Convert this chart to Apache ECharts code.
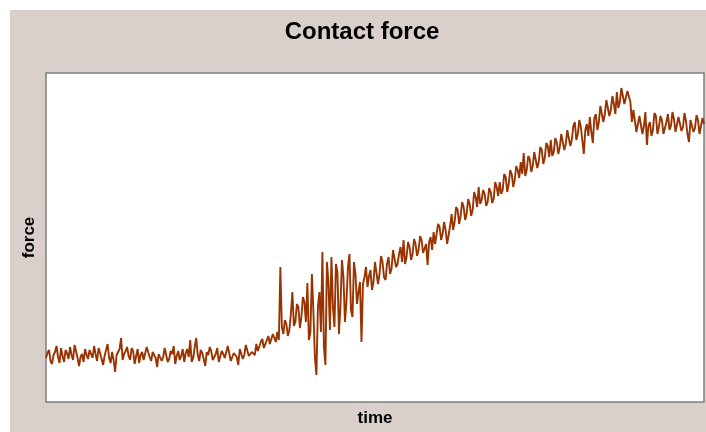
<!DOCTYPE html>
<html>
<head>
<meta charset="utf-8">
<script src="https://cdn.jsdelivr.net/npm/echarts@6/dist/echarts.min.js"></script>
<style>
html,body{margin:0;padding:0;background:#ffffff;}
#bg{position:absolute;left:10px;top:10px;width:696px;height:422px;background:#d9d0cc;}
#chart{position:absolute;left:0;top:0;width:706px;height:432px;}
</style>
</head>
<body>
<div id="bg"></div>
<div id="chart"></div>
<script>
const titleText = "Contact force";
const xName = "time";
const yName = "force";
// force readings (arbitrary units), sampled along time
const force = [
44,49,52,41,38,47,50,56,45,39,54,46,40,52,49,43,55,47,42,57,51,44,36,45,48,40,53,47,43,52,50,44,56,48,41,54,49,43,37,46,
52,58,44,39,50,42,30,47,45,53,64,42,48,51,55,46,42,54,51,38,46,53,39,47,50,42,44,55,53,45,41,50,49,44,35,48,50,41,45,54,
52,40,43,51,48,56,38,46,51,42,46,53,40,49,53,45,62,40,44,55,64,47,41,52,49,43,36,50,47,55,51,42,43,48,54,40,39,51,48,44,
45,56,55,41,42,49,50,45,37,53,52,43,47,57,55,46,44,50,52,47,58,51,50,60,63,54,55,62,66,58,57,68,64,60,70,62,135,75,68,82,
78,66,72,88,110,76,80,98,95,74,85,105,100,80,119,62,70,128,90,45,27,95,110,70,150,55,37,140,120,72,145,95,75,138,130,68,
95,142,125,80,100,135,148,92,85,140,128,98,110,120,60,118,125,135,115,126,132,112,120,140,138,118,128,146,140,125,122,138,
145,128,133,152,150,135,138,148,155,140,162,138,145,160,155,142,148,163,158,146,152,166,162,149,150,158,137,160,165,152,
170,158,160,178,175,162,168,180,172,158,160,176,188,172,180,195,192,178,186,200,195,182,188,203,198,186,192,210,205,195,
215,198,202,212,208,196,200,214,210,199,203,220,215,206,220,208,212,228,225,210,218,232,228,215,222,236,232,224,240,228,
249,226,232,246,243,230,236,250,248,234,240,255,252,238,244,259,256,245,262,246,250,264,260,248,255,268,266,252,258,272,
270,256,262,276,280,262,268,282,275,262,248,272,278,266,285,270,259,284,288,272,280,296,295,280,288,302,300,286,292,306,
298,288,310,294,300,314,312,298,296,311,313,300,280,292,290,270,272,286,284,268,276,290,257,276,280,266,272,289,286,268,
275,286,282,268,270,280,288,272,276,290,283,270,272,285,287,271,275,289,281,268,260,282,284,270,274,287,282,268,270,284,
278
];
const times = force.map((_, i) => i);

const chart = echarts.init(document.getElementById('chart'), null, {renderer: 'canvas'});
chart.setOption({
  animation: false,
  backgroundColor: 'transparent',
  title: {
    text: titleText,
    left: 357,
    textAlign: 'center',
    top: 15,
    textStyle: {fontFamily: 'Liberation Sans', fontWeight: 'bold', fontSize: 24, color: '#000'}
  },
  grid: {
    left: 46, right: 2, top: 73, bottom: 30,
    show: true, backgroundColor: '#ffffff', borderColor: '#7f7f7f', borderWidth: 1.5
  },
  xAxis: {
    type: 'category',
    data: times,
    boundaryGap: false,
    name: xName,
    nameLocation: 'middle',
    nameGap: 8,
    nameTextStyle: {fontFamily: 'Liberation Sans', fontWeight: 'bold', fontSize: 17, color: '#000', verticalAlign: 'top'},
    axisLine: {show: false}, axisTick: {show: false}, axisLabel: {show: false}, splitLine: {show: false}
  },
  yAxis: {
    type: 'value',
    min: 0, max: 329,
    name: yName,
    nameLocation: 'middle',
    nameGap: 8,
    nameRotate: 90,
    nameTextStyle: {fontFamily: 'Liberation Sans', fontWeight: 'bold', fontSize: 17, color: '#000', verticalAlign: 'bottom'},
    axisLine: {show: false}, axisTick: {show: false}, axisLabel: {show: false}, splitLine: {show: false}
  },
  series: [{
    type: 'line',
    data: force,
    showSymbol: false,
    lineStyle: {color: '#993300', width: 1.9},
    z: 3
  }]
});
</script>
</body>
</html>
